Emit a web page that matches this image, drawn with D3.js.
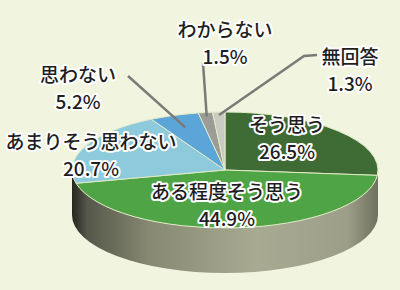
<!DOCTYPE html>
<html>
<head>
<meta charset="utf-8">
<script src="https://cdn.jsdelivr.net/npm/d3@7"></script>
<style>
  html, body { margin: 0; padding: 0; background: #f1f4df; }
  svg { display: block; }
</style>
</head>
<body>
<div class="main"></div>
<script>
    //Data
    const categories = ['そう思う', 'ある程度そう思う', 'あまりそう思わない', '思わない', 'わからない', '無回答'];
    const values = [26.5, 44.9, 20.7, 5.2, 1.5, 1.3];
    const valueLabels = ['26.5%', '44.9%', '20.7%', '5.2%', '1.5%', '1.3%'];

    //Variables
    const width = 400,
          height = 290,
          cx = 225,
          cy = 170,
          rx = 153,
          ry = 58,
          depth = 45,
          colors = ['#3f6b34', '#4fa546', '#8dcbdc', '#5ba5d8', '#9c9c96', '#cacbc1'];

    //Label layout (centre of first line, leader line start, leader radius)
    const layout = [
        {x: 287, y: 123},
        {x: 227, y: 190},
        {x: 91, y: 140},
        {x: 78, y: 73, line: [[128, 76]], r: 0.78},
        {x: 225, y: 28, line: [[203, 63]], r: 0.93},
        {x: 350, y: 55, line: [[317, 55], [304, 56]], r: 0.95}
    ];

    const dataset = categories.map((c, i) => ({name: c, value: values[i], label: valueLabels[i], color: colors[i], pos: layout[i]}));

    //Create Canvas
    const svg = d3.select('.main')
                  .append('svg')
                  .attr('width', width)
                  .attr('height', height)
                  .style('background', '#f1f4df');

    //Side gradient
    const grad = svg.append('defs')
                    .append('linearGradient')
                    .attr('id', 'side')
                    .attr('x1', '0%').attr('x2', '100%')
                    .attr('y1', '0%').attr('y2', '0%');
    [[0, '#25261e'], [0.05, '#55574a'], [0.25, '#868871'], [0.6, '#a8aa92'], [0.9, '#9c9e87'], [1, '#6f7160']]
        .forEach(s => grad.append('stop').attr('offset', s[0]).attr('stop-color', s[1]));

    //Side of the pie (front half)
    svg.append('path')
       .attr('d', `M${cx + rx},${cy} A${rx},${ry} 0 0 1 ${cx - rx},${cy} L${cx - rx},${cy + depth} A${rx},${ry} 0 0 0 ${cx + rx},${cy + depth} Z`)
       .attr('fill', 'url(#side)');

    //Pie
    const pie = d3.pie().sort(null).value(d => d.value);
    const arc = d3.arc().innerRadius(0).outerRadius(rx);
    const arcs = pie(dataset);

    const pieTop = svg.append('g')
                      .attr('transform', `translate(${cx}, ${cy}) scale(1, ${ry / rx})`);

    pieTop.selectAll('path')
          .data(arcs)
          .enter()
          .append('path')
          .attr('d', arc)
          .attr('fill', d => d.data.color)
          .attr('stroke', '#e2ebc9')
          .attr('stroke-width', 1)
          .attr('vector-effect', 'non-scaling-stroke');

    //Leader lines
    arcs.filter(d => d.data.pos.line).forEach(d => {
        const a = (d.startAngle + d.endAngle) / 2,
              r = d.data.pos.r;
        const pts = d.data.pos.line.concat([[cx + rx * r * Math.sin(a), cy - ry * r * Math.cos(a)]]);
        svg.append('path')
           .attr('d', d3.line()(pts))
           .attr('fill', 'none')
           .attr('stroke', '#7a7a76')
           .attr('stroke-width', 2.5);
    });

    //Labels
    const labels = svg.selectAll('.lbl')
                      .data(arcs)
                      .enter()
                      .append('text')
                      .attr('class', 'lbl')
                      .attr('text-anchor', 'middle')
                      .attr('font-family', '"Noto Sans CJK JP", "Noto Sans", sans-serif')
                      .attr('font-size', 19)
                      .attr('font-weight', 500)
                      .attr('fill', '#1e1e1e')
                      .attr('stroke', '#ffffff')
                      .attr('stroke-width', 4)
                      .attr('stroke-linejoin', 'round')
                      .attr('paint-order', 'stroke');

    labels.append('tspan')
          .attr('x', d => d.data.pos.x)
          .attr('y', d => d.data.pos.y)
          .attr('dominant-baseline', 'central')
          .text(d => d.data.name);

    labels.append('tspan')
          .attr('x', d => d.data.pos.x)
          .attr('y', d => d.data.pos.y + 27)
          .attr('dominant-baseline', 'central')
          .text(d => d.data.label);
</script>
</body>
</html>
